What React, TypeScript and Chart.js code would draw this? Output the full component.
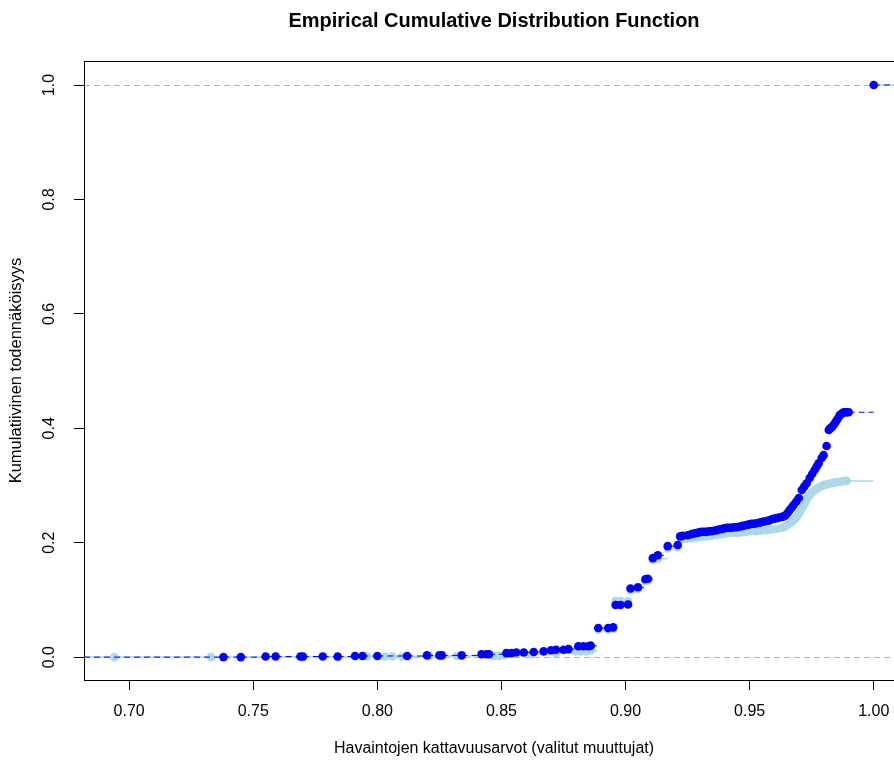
import React, { useEffect, useRef } from 'react';
import { Chart, registerables } from 'chart.js';

Chart.register(...registerables);

const TITLE = 'Empirical Cumulative Distribution Function';
const X_TITLE = 'Havaintojen kattavuusarvot (valitut muuttujat)';
const Y_TITLE = 'Kumulatiivinen todennäköisyys';

const X_MIN = 0.6818;
const X_MAX = 1.0122;
const Y_MIN = -0.04;
const Y_MAX = 1.042;

const X_TICKS = [0.7, 0.75, 0.8, 0.85, 0.9, 0.95, 1.0];
const Y_TICKS = [0.0, 0.2, 0.4, 0.6, 0.8, 1.0];
const REF_LINES = [0, 1];

// Dark blue series (dashed step lines)
const darkX = [
  0.738, 0.745, 0.755, 0.759, 0.769, 0.770, 0.778, 0.784, 0.791, 0.794, 0.800, 0.812,
  0.820, 0.825, 0.826, 0.834, 0.842, 0.844, 0.845, 0.852, 0.854, 0.856, 0.859, 0.863,
  0.867, 0.870, 0.872, 0.875, 0.877, 0.881, 0.883, 0.885, 0.886,
  0.889, 0.893, 0.895, 0.896, 0.898, 0.901, 0.902, 0.905, 0.908, 0.909, 0.911, 0.913,
  0.917, 0.921, 0.922, 0.923, 0.925,
  0.9266, 0.9276, 0.9286, 0.9296, 0.9306, 0.9317, 0.9327, 0.9337, 0.9347, 0.9357,
  0.9367, 0.9377, 0.9387, 0.9397, 0.9407, 0.9417, 0.9427, 0.9438, 0.9448, 0.9458,
  0.9468, 0.9478, 0.9488, 0.9498, 0.9508, 0.9518, 0.9528, 0.9538, 0.9548, 0.9558,
  0.9569, 0.9579, 0.9589, 0.9599, 0.9609, 0.9619, 0.9629, 0.9637, 0.9645,
  0.9653, 0.9661, 0.9669, 0.9677, 0.9688, 0.9698, 0.9710, 0.9720, 0.9730, 0.9742,
  0.9752, 0.9762, 0.9770, 0.9778, 0.9790, 0.9798,
  0.9810, 0.9819, 0.9825, 0.9831, 0.9839, 0.9845, 0.9851, 0.9857, 0.9863, 0.9869,
  0.9875, 0.9881, 0.9887, 0.9893, 0.9899,
  1.0,
];
const darkY = [
  0.000, 0.000, 0.001, 0.001, 0.001, 0.001, 0.001, 0.001, 0.002, 0.002, 0.002, 0.002,
  0.003, 0.003, 0.003, 0.003, 0.005, 0.005, 0.005, 0.007, 0.007, 0.008, 0.008, 0.009,
  0.010, 0.012, 0.013, 0.013, 0.014, 0.019, 0.019, 0.019, 0.020,
  0.051, 0.051, 0.052, 0.091, 0.091, 0.092, 0.120, 0.122, 0.136, 0.137, 0.173, 0.178,
  0.194, 0.196, 0.211, 0.212, 0.213,
  0.215, 0.216, 0.217, 0.218, 0.219, 0.219, 0.219, 0.220, 0.220, 0.221,
  0.222, 0.223, 0.224, 0.225, 0.226, 0.226, 0.226, 0.227, 0.227, 0.228,
  0.229, 0.230, 0.231, 0.232, 0.233, 0.233, 0.234, 0.235, 0.236, 0.237,
  0.238, 0.239, 0.241, 0.242, 0.243, 0.244, 0.245, 0.246, 0.248,
  0.252, 0.257, 0.261, 0.266, 0.272, 0.278, 0.292, 0.298, 0.304, 0.313,
  0.320, 0.327, 0.333, 0.339, 0.348, 0.353,
  0.369, 0.397, 0.400, 0.402, 0.406, 0.410, 0.414, 0.418, 0.423, 0.425,
  0.427, 0.428, 0.428, 0.428, 0.428,
  1.0,
];

// Light blue series (solid step lines)
const lightX = [
  0.694, 0.733, 0.770, 0.784, 0.796, 0.803, 0.806, 0.810, 0.821, 0.832, 0.847, 0.849,
  0.851, 0.862, 0.872, 0.880, 0.882, 0.884, 0.886,
  0.889, 0.893, 0.895, 0.896, 0.898, 0.901, 0.902, 0.905, 0.908, 0.909, 0.911, 0.913,
  0.917, 0.921, 0.9226,
  0.9246, 0.9266, 0.9286, 0.9306, 0.9327, 0.9347, 0.9367, 0.9387, 0.9407, 0.9427,
  0.9448, 0.9468, 0.9488, 0.9508, 0.9528, 0.9548, 0.9569, 0.9589, 0.9609, 0.9629,
  0.9641, 0.9653, 0.9665, 0.9677, 0.9686, 0.9694, 0.9700, 0.9706, 0.9714, 0.9722,
  0.9728, 0.9734, 0.9742, 0.9750, 0.9760, 0.9770, 0.9780, 0.9790, 0.9800, 0.9810,
  0.9820, 0.9831, 0.9841, 0.9851, 0.9861, 0.9871, 0.9881, 0.9891,
  1.0,
];
const lightY = [
  0.000, 0.000, 0.000, 0.000, 0.001, 0.001, 0.001, 0.001, 0.002, 0.002, 0.002, 0.002,
  0.003, 0.005, 0.007, 0.010, 0.010, 0.010, 0.011,
  0.048, 0.048, 0.050, 0.098, 0.098, 0.098, 0.117, 0.119, 0.133, 0.134, 0.170, 0.172,
  0.190, 0.192, 0.206,
  0.207, 0.208, 0.209, 0.210, 0.211, 0.212, 0.213, 0.215, 0.216, 0.217,
  0.217, 0.218, 0.219, 0.220, 0.220, 0.221, 0.222, 0.223, 0.224, 0.226,
  0.228, 0.231, 0.235, 0.239, 0.243, 0.248, 0.252, 0.257, 0.262, 0.268,
  0.274, 0.279, 0.283, 0.287, 0.291, 0.294, 0.297, 0.299, 0.301, 0.302,
  0.303, 0.304, 0.305, 0.306, 0.306, 0.307, 0.308, 0.308,
  1.0,
];

const DARK = '#0000FF';
const LIGHT = '#ADD8E6';
const FONT = '"Liberation Sans", Arial, Helvetica, sans-serif';

function stepSegments(xs: number[], ys: number[]) {
  const out: { x: number; y: number | null }[] = [];
  out.push({ x: X_MIN, y: 0 }, { x: xs[0], y: 0 }, { x: xs[0], y: null });
  for (let i = 0; i < xs.length; i++) {
    const next = i + 1 < xs.length ? xs[i + 1] : X_MAX;
    out.push({ x: xs[i], y: ys[i] }, { x: next, y: ys[i] }, { x: next, y: null });
  }
  return out;
}

function points(xs: number[], ys: number[]) {
  return xs.map((x, i) => ({ x, y: ys[i] }));
}

const framePlugin = {
  id: 'rframe',
  beforeDatasetsDraw(chart: any) {
    const { ctx, chartArea, scales } = chart;
    ctx.save();
    ctx.strokeStyle = '#B3B3B3';
    ctx.lineWidth = 1;
    ctx.setLineDash([6, 4]);
    REF_LINES.forEach((v) => {
      const y = Math.round(scales.y.getPixelForValue(v)) + 0.5;
      ctx.beginPath();
      ctx.moveTo(chartArea.left, y);
      ctx.lineTo(chartArea.right, y);
      ctx.stroke();
    });
    ctx.restore();
  },
  afterDraw(chart: any) {
    const { ctx, chartArea, scales } = chart;
    ctx.save();
    ctx.strokeStyle = '#000';
    ctx.lineWidth = 1;
    ctx.setLineDash([]);
    ctx.strokeRect(
      Math.round(chartArea.left) + 0.5,
      Math.round(chartArea.top) + 0.5,
      Math.round(chartArea.right - chartArea.left),
      Math.round(chartArea.bottom - chartArea.top)
    );
    // y tick labels (rotated, R style)
    ctx.fillStyle = '#000';
    ctx.font = `16px ${FONT}`;
    ctx.textAlign = 'center';
    ctx.textBaseline = 'middle';
    scales.y.ticks.forEach((t: any) => {
      const y = scales.y.getPixelForValue(t.value);
      ctx.save();
      ctx.translate(50, y);
      ctx.rotate(-Math.PI / 2);
      ctx.fillText(Number(t.value).toFixed(1), 0, 0);
      ctx.restore();
    });
    // main title
    ctx.font = `bold 20px ${FONT}`;
    ctx.fillText(TITLE, (chartArea.left + chartArea.right) / 2, 21);
    ctx.restore();
  },
};

export default function App() {
  const ref = useRef<HTMLCanvasElement | null>(null);

  useEffect(() => {
    if (!ref.current) return;
    const chart = new Chart(ref.current, {
      type: 'scatter',
      data: {
        datasets: [
          {
            data: stepSegments(lightX, lightY),
            showLine: true,
            borderColor: LIGHT,
            borderWidth: 1.5,
            pointRadius: 0,
            spanGaps: false,
            order: 4,
          },
          {
            data: points(lightX, lightY),
            showLine: false,
            pointRadius: 4.3,
            pointBackgroundColor: LIGHT,
            pointBorderColor: LIGHT,
            pointBorderWidth: 0,
            order: 3,
          },
          {
            data: stepSegments(darkX, darkY),
            showLine: true,
            borderColor: DARK,
            borderWidth: 1,
            borderDash: [6, 4],
            pointRadius: 0,
            spanGaps: false,
            order: 2,
          },
          {
            data: points(darkX, darkY),
            showLine: false,
            pointRadius: 4.3,
            pointBackgroundColor: DARK,
            pointBorderColor: DARK,
            pointBorderWidth: 0,
            order: 1,
          },
        ],
      },
      options: {
        animation: false,
        responsive: false,
        maintainAspectRatio: false,
        events: [],
        layout: { padding: { top: 61, right: 6, left: 0, bottom: 0 } },
        plugins: {
          legend: { display: false },
          tooltip: { enabled: false },
          title: { display: false },
        },
        scales: {
          x: {
            type: 'linear',
            min: X_MIN,
            max: X_MAX,
            afterBuildTicks: (s: any) => {
              s.ticks = X_TICKS.map((v) => ({ value: v }));
            },
            afterFit: (s: any) => {
              s.height = 82;
            },
            grid: {
              display: true,
              drawOnChartArea: false,
              drawTicks: true,
              tickLength: 10,
              tickColor: '#000',
              color: '#000',
            },
            border: { display: false },
            ticks: {
              color: '#000',
              font: { family: FONT, size: 16 },
              padding: 12,
              maxRotation: 0,
              autoSkip: false,
              callback: (v: any) => Number(v).toFixed(2),
            },
            title: {
              display: true,
              text: X_TITLE,
              color: '#000',
              font: { family: FONT, size: 16 },
              padding: { top: 0, bottom: 4 },
            },
          },
          y: {
            type: 'linear',
            min: Y_MIN,
            max: Y_MAX,
            afterBuildTicks: (s: any) => {
              s.ticks = Y_TICKS.map((v) => ({ value: v }));
            },
            afterFit: (s: any) => {
              s.width = 84;
            },
            grid: {
              display: true,
              drawOnChartArea: false,
              drawTicks: true,
              tickLength: 10,
              tickColor: '#000',
              color: '#000',
            },
            border: { display: false },
            ticks: { display: false },
            title: {
              display: true,
              text: Y_TITLE,
              color: '#000',
              font: { family: FONT, size: 16.5 },
              padding: { top: 7, bottom: 0 },
            },
          },
        },
      },
      plugins: [framePlugin],
    });
    return () => chart.destroy();
  }, []);

  return (
    <div
      style={{
        position: 'fixed',
        left: 0,
        top: 0,
        width: 894,
        height: 762,
        overflow: 'hidden',
        background: '#fff',
      }}
    >
      <canvas ref={ref} width={910} height={762} style={{ width: 910, height: 762, display: 'block' }} />
    </div>
  );
}
